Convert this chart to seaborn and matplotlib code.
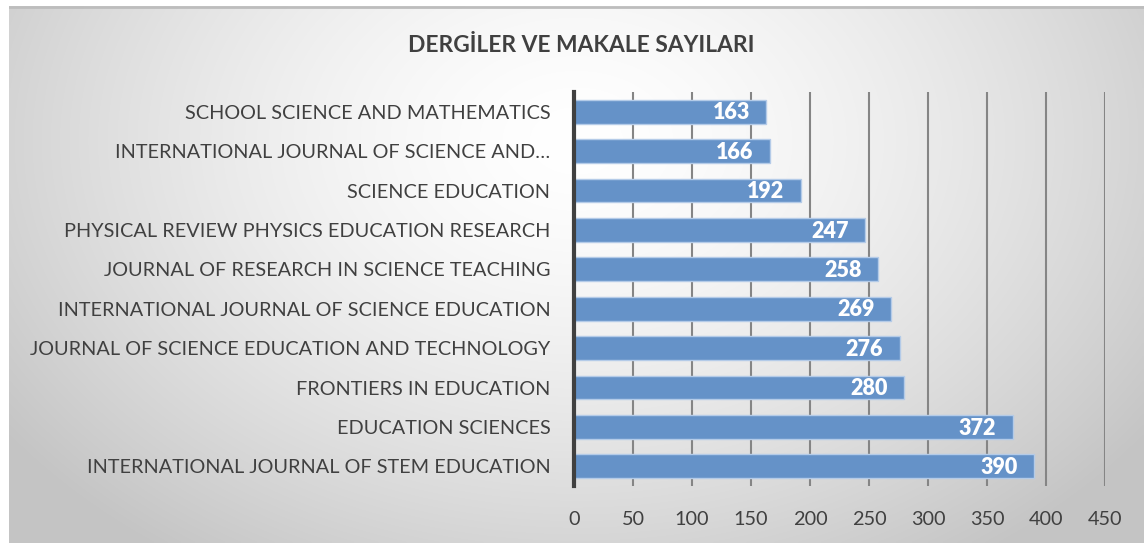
import numpy as np
import pandas as pd
import matplotlib
matplotlib.use("Agg")
import matplotlib.pyplot as plt
import seaborn as sns

categories = [
    "SCHOOL SCIENCE AND MATHEMATICS",
    "INTERNATIONAL JOURNAL OF SCIENCE AND…",
    "SCIENCE EDUCATION",
    "PHYSICAL REVIEW PHYSICS EDUCATION RESEARCH",
    "JOURNAL OF RESEARCH IN SCIENCE TEACHING",
    "INTERNATIONAL JOURNAL OF SCIENCE EDUCATION",
    "JOURNAL OF SCIENCE EDUCATION AND TECHNOLOGY",
    "FRONTIERS IN EDUCATION",
    "EDUCATION SCIENCES",
    "INTERNATIONAL JOURNAL OF STEM EDUCATION",
]
values = [163, 166, 192, 247, 258, 269, 276, 280, 372, 390]
x_ticks = [0, 50, 100, 150, 200, 250, 300, 350, 400, 450]
title = "DERGİLER VE MAKALE SAYILARI"

sns.set_theme(style="white")
plt.rcParams["font.family"] = ["Lato", "DejaVu Sans"]

W, H = 1144, 543
fig = plt.figure(figsize=(W / 100, H / 100), dpi=100)
fig.patch.set_facecolor("white")

# background radial gradient panel
bx0, by0 = 9, 6
bg = fig.add_axes([bx0 / W, 0, 1 - bx0 / W, 1 - by0 / H], zorder=0)
nx, ny = 400, 200
xx, yy = np.meshgrid(np.linspace(0, 1, nx), np.linspace(0, 1, ny))
cx, cy = 0.5, 0.25
d = np.sqrt(((xx - cx) / 0.62) ** 2 + ((yy - cy) / 0.95) ** 2)
d = np.clip(d, 0, 1)
val = 1.0 - 0.23 * d ** 1.5
img = np.dstack([val, val, val])
bg.imshow(img, aspect="auto", extent=[0, 1, 1, 0], interpolation="bilinear")
bg.plot([0, 1], [0.002, 0.002], color="#bdbdbd", lw=2)
bg.set_xlim(0, 1)
bg.set_ylim(1, 0)
bg.axis("off")

ax = fig.add_axes([574 / W, 1 - 486 / H, (1105 - 574) / W, (486 - 92) / H], zorder=1)
ax.patch.set_alpha(0)

df = pd.DataFrame({"journal": categories, "count": values})
sns.barplot(data=df, x="count", y="journal", orient="h", color="#6592c8",
            saturation=1, width=0.6, edgecolor="#b4cbe8", linewidth=1.0,
            ax=ax, zorder=3)

ax.set_xlim(0, 450)
ax.set_xticks(x_ticks)
for t in x_ticks[1:]:
    ax.axvline(t, color="#858585", lw=1.5, zorder=1)

for i, v in enumerate(values):
    ax.text(v - 14, i + 0.03, str(v), ha="right", va="center", color="white",
            fontsize=15.5, fontweight="heavy", zorder=4)

for s in ["top", "right", "bottom"]:
    ax.spines[s].set_visible(False)
ax.spines["left"].set_color("#404040")
ax.spines["left"].set_linewidth(3)
ax.spines["left"].set_zorder(5)
ax.tick_params(axis="both", length=0, labelsize=14.3, colors="#404040")
ax.tick_params(axis="x", pad=18)
ax.tick_params(axis="y", pad=17)
ax.set_xlabel("")
ax.set_ylabel("")

fig.text(581 / W, 1 - 46 / H, title, ha="center", va="center",
         fontsize=16.4, fontweight="bold", color="#404040")

fig.savefig("out.png", dpi=100)
